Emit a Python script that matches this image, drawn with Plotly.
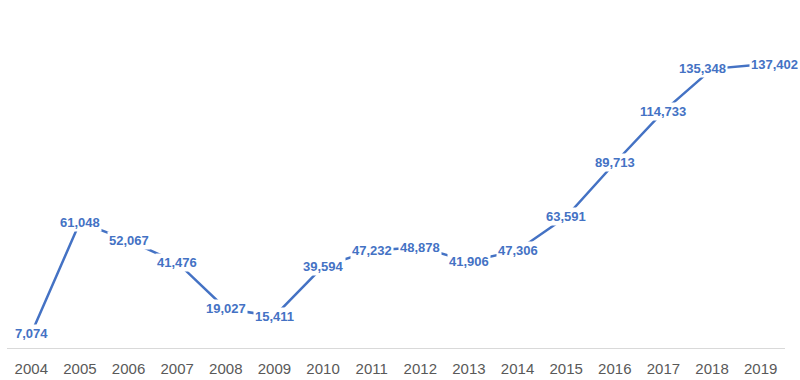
import plotly.graph_objects as go

years = ["2004", "2005", "2006", "2007", "2008", "2009", "2010", "2011",
         "2012", "2013", "2014", "2015", "2016", "2017", "2018", "2019"]
values = [7074, 61048, 52067, 41476, 19027, 15411, 39594, 47232,
          48878, 41906, 47306, 63591, 89713, 114733, 135348, 137402]
label_xshift = [0, 0, 0, 0, 0, 0, 0, 0, 0, 0, 0, 0, 0, 0, -10, 14]

LINE = "#4472C4"

fig = go.Figure()
fig.add_trace(go.Scatter(
    x=years, y=values, mode="lines",
    line=dict(color=LINE, width=2.5),
    hoverinfo="x+y", showlegend=False,
))

for i, (v, dx) in enumerate(zip(values, label_xshift)):
    fig.add_annotation(
        x=i, y=v, xref="x", yref="y", text=f"<b>{v:,}</b>", showarrow=False, xshift=dx,
        bgcolor="white", borderpad=1,
        font=dict(family="Liberation Sans, Arial, sans-serif", size=13, color=LINE),
    )

fig.update_layout(
    width=800, height=380,
    margin=dict(l=7, r=15, t=18, b=32, autoexpand=False),
    paper_bgcolor="white", plot_bgcolor="white",
    xaxis=dict(
        type="category", range=[-0.5, 15.5], automargin=False,
        showgrid=False, zeroline=False,
        showline=True, linecolor="#d9d9d9", linewidth=1,
        ticks="", ticklabelstandoff=7,
        tickfont=dict(family="Liberation Sans, Arial, sans-serif", size=15, color="#595959"),
    ),
    yaxis=dict(
        range=[0, 160000], visible=False, showgrid=False, zeroline=False,
    ),
)

fig.write_html("out.html", config={"displayModeBar": False},
               post_script="document.body.style.margin='0';document.body.style.overflow='hidden';")
